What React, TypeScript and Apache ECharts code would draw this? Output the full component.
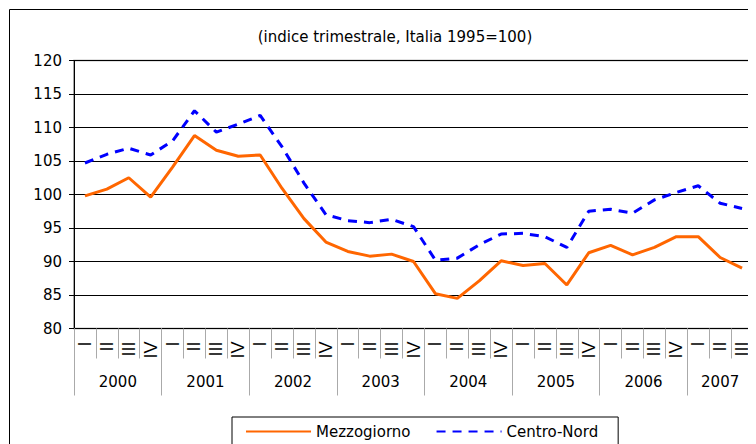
import React, { useEffect, useRef } from "react";
import * as echarts from "echarts";

const quarterNames = ["I", "II", "III", "IV"];
const years = ["2000", "2001", "2002", "2003", "2004", "2005", "2006", "2007"];
const quartersPerYear = [4, 4, 4, 4, 4, 4, 4, 3];

const mezzogiorno = [
  99.8, 100.8, 102.5, 99.6, 104.1, 108.8, 106.6, 105.7, 105.9, 100.9, 96.4, 92.9,
  91.5, 90.8, 91.1, 90.0, 85.2, 84.5, 87.1, 90.1, 89.4, 89.7, 86.5, 91.3, 92.4,
  91.0, 92.1, 93.7, 93.7, 90.6, 89.0,
];
const centroNord = [
  104.7, 106.0, 106.9, 105.9, 108.0, 112.5, 109.3, 110.5, 111.8, 107.1, 101.7, 97.0,
  96.1, 95.8, 96.3, 95.2, 90.2, 90.5, 92.5, 94.1, 94.2, 93.7, 92.1, 97.5, 97.8, 97.2,
  99.2, 100.3, 101.3, 98.7, 97.9,
];

const titleText = "(indice trimestrale, Italia 1995=100)";
const FONT = "'DejaVu Sans', Verdana, sans-serif";
const QFONT = "'Liberation Sans', Arial, sans-serif";

const categories: string[] = [];
const yearStarts: number[] = [];
const yearLabelAt: Record<number, { year: string; shift: boolean }> = {};
years.forEach((y, yi) => {
  const start = categories.length;
  yearStarts.push(start);
  for (let q = 0; q < quartersPerYear[yi]; q++) categories.push(quarterNames[q]);
  yearLabelAt[start + 1] = { year: y, shift: quartersPerYear[yi] % 2 === 0 };
});

export default function App() {
  const ref = useRef<HTMLDivElement>(null);
  useEffect(() => {
    if (!ref.current) return;
    const chart = echarts.init(ref.current, undefined, { renderer: "svg" });
    chart.setOption({
      animation: false,
      textStyle: { fontFamily: FONT },
      title: {
        text: titleText,
        left: 382,
        top: 16,
        textAlign: "center",
        textStyle: { fontSize: 15, fontWeight: "normal", color: "#000", fontFamily: FONT },
      },
      graphic: [
        {
          type: "rect",
          shape: { x: 1.5, y: 1.5, width: 900, height: 600 },
          style: { fill: "none", stroke: "#000", lineWidth: 1 },
          silent: true,
        },
      ],
      legend: {
        data: ["Mezzogiorno", "Centro-Nord"],
        left: 224,
        top: 409,
        itemWidth: 65,
        itemHeight: 14,
        itemGap: 25,
        borderColor: "#000",
        borderWidth: 1,
        padding: [7, 20, 40, 13],
        itemStyle: { opacity: 0 },
        textStyle: { fontSize: 15, color: "#000", fontFamily: FONT },
      },
      grid: {
        left: 66,
        top: 52.5,
        width: 679,
        height: 268,
        show: true,
        borderColor: "#888",
        borderWidth: 1.5,
        backgroundColor: "transparent",
      },
      xAxis: [
        {
          type: "category",
          position: "bottom",
          data: categories,
          boundaryGap: true,
          axisLine: { show: true, lineStyle: { color: "#000", width: 1 } },
          axisTick: { show: true, interval: 0, length: 30, lineStyle: { color: "#aaa" } },
          axisLabel: {
            interval: 0,
            rotate: 90,
            margin: 13,
            fontSize: 18,
            color: "#000",
            fontFamily: QFONT,
          },
          splitLine: { show: false },
        },
        {
          type: "category",
          position: "bottom",
          offset: 0,
          data: categories,
          boundaryGap: true,
          axisLine: { show: false },
          axisTick: {
            show: true,
            interval: (index: number) => yearStarts.includes(index) || index === categories.length,
            length: 67,
            lineStyle: { color: "#aaa" },
          },
          axisLabel: {
            interval: 0,
            margin: 46,
            fontSize: 15,
            color: "#000",
            fontFamily: FONT,
            formatter: (_v: string, index: number) => {
              const l = yearLabelAt[index];
              if (!l) return "";
              return l.shift ? `{s|${l.year}}` : `{c|${l.year}}`;
            },
            rich: {
              s: { padding: [0, 0, 0, 22], fontSize: 15, color: "#000", fontFamily: FONT },
              c: { fontSize: 15, color: "#000", fontFamily: FONT },
            },
          },
          splitLine: { show: false },
        },
      ],
      yAxis: {
        type: "value",
        min: 80,
        max: 120,
        interval: 5,
        axisLine: { show: true, lineStyle: { color: "#000", width: 1 } },
        axisTick: { show: true, length: 5, lineStyle: { color: "#000" } },
        axisLabel: { margin: 12, fontSize: 15, color: "#000", fontFamily: FONT },
        splitLine: { show: true, lineStyle: { color: "#000", width: 1 } },
      },
      series: [
        {
          name: "Mezzogiorno",
          type: "line",
          data: mezzogiorno,
          symbol: "none",
          lineStyle: { color: "#FF6600", width: 3 },
          itemStyle: { color: "#FF6600" },
        },
        {
          name: "Centro-Nord",
          type: "line",
          data: centroNord,
          symbol: "none",
          lineStyle: { color: "#0000FF", width: 3, type: [9, 7] },
          itemStyle: { color: "#0000FF" },
        },
      ],
    });
    return () => chart.dispose();
  }, []);
  return <div ref={ref} style={{ width: 748, height: 436 }} />;
}
